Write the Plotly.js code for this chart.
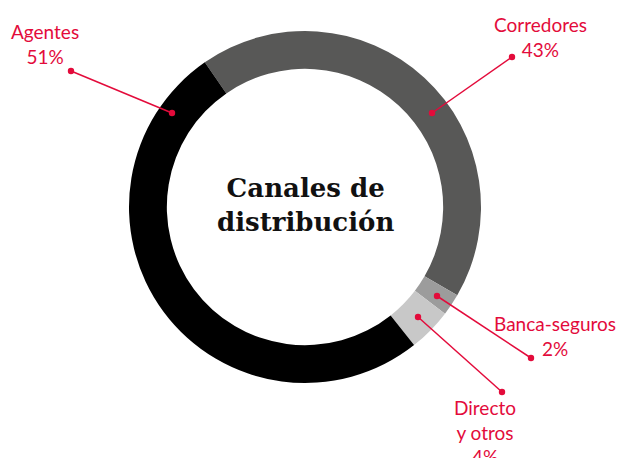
<!DOCTYPE html>
<html>
<head>
<meta charset="utf-8">
<script src="https://cdn.plot.ly/plotly-3.0.1.min.js"></script>
<style>
  html, body { margin: 0; padding: 0; background: #fff; }
  #chart { width: 625px; height: 458px; }
</style>
</head>
<body>
<div id="chart"></div>
<script>
    // Slices in drawing order (clockwise, starting at the top-left boundary)
    var channels = ['Corredores', 'Banca-seguros', 'Directo y otros', 'Agentes'];
    var shares = [43, 2, 4, 51];
    var sliceColors = ['#585857', '#9c9c9c', '#c8c8c8', '#000000'];
    // Callout label text (line breaks as in the original)
    var calloutNames = ['Corredores', 'Banca-seguros', 'Directo<br>y otros', 'Agentes'];

    var RED = '#e30b3b';

    // Callout geometry, in page pixels: label centre, outer dot, dot on the ring
    var callouts = [
        { tx: 540, ty: 37,  ox: 512, oy: 57,  rx: 432, ry: 113 },
        { tx: 555, ty: 336, ox: 531, oy: 358, rx: 437, ry: 296 },
        { tx: 485, ty: 432, ox: 502, oy: 392, rx: 418, ry: 317 },
        { tx: 45,  ty: 44,  ox: 71,  oy: 71,  rx: 172, ry: 113 }
    ];

    var pie = {
        type: 'pie',
        labels: channels,
        values: shares,
        sort: false,
        direction: 'clockwise',
        rotation: -34.7,
        hole: 0.785,
        marker: { colors: sliceColors, line: { width: 0 } },
        textinfo: 'none',
        hoverinfo: 'label+percent',
        showlegend: false,
        domain: { x: [129 / 625, 481 / 625], y: [75 / 458, 427 / 458] }
    };

    var annotations = [];
    var shapes = [];
    callouts.forEach(function (c, i) {
        annotations.push({
            xref: 'x', yref: 'y',
            x: c.tx, y: c.ty,
            xanchor: 'center', yanchor: 'middle',
            text: calloutNames[i] + '<br>' + shares[i] + '%',
            showarrow: false,
            font: { family: 'Lato, sans-serif', size: 19, color: RED }
        });
        shapes.push({
            type: 'line', xref: 'x', yref: 'y', layer: 'above',
            x0: c.ox, y0: c.oy, x1: c.rx, y1: c.ry,
            line: { color: RED, width: 1.5 }
        });
        [[c.ox, c.oy], [c.rx, c.ry]].forEach(function (p) {
            shapes.push({
                type: 'circle', xref: 'x', yref: 'y', layer: 'above',
                xsizemode: 'pixel', ysizemode: 'pixel',
                xanchor: p[0], yanchor: p[1],
                x0: -3.2, x1: 3.2, y0: -3.2, y1: 3.2,
                fillcolor: RED, line: { width: 0 }
            });
        });
    });

    // Centre title
    annotations.push({
        xref: 'x', yref: 'y',
        x: 305, y: 205,
        xanchor: 'center', yanchor: 'middle',
        text: '<b>Canales de<br>distribución</b>',
        showarrow: false,
        font: { family: 'DejaVu Serif, serif', size: 26, color: '#111111' }
    });

    var layout = {
        width: 625,
        height: 458,
        margin: { t: 0, r: 0, b: 0, l: 0 },
        paper_bgcolor: '#ffffff',
        plot_bgcolor: 'rgba(0,0,0,0)',
        xaxis: { range: [0, 625], visible: false, fixedrange: true },
        yaxis: { range: [458, 0], visible: false, fixedrange: true },
        annotations: annotations,
        shapes: shapes
    };

    Plotly.newPlot('chart', [pie], layout, { displayModeBar: false, staticPlot: true });
</script>
</body>
</html>
